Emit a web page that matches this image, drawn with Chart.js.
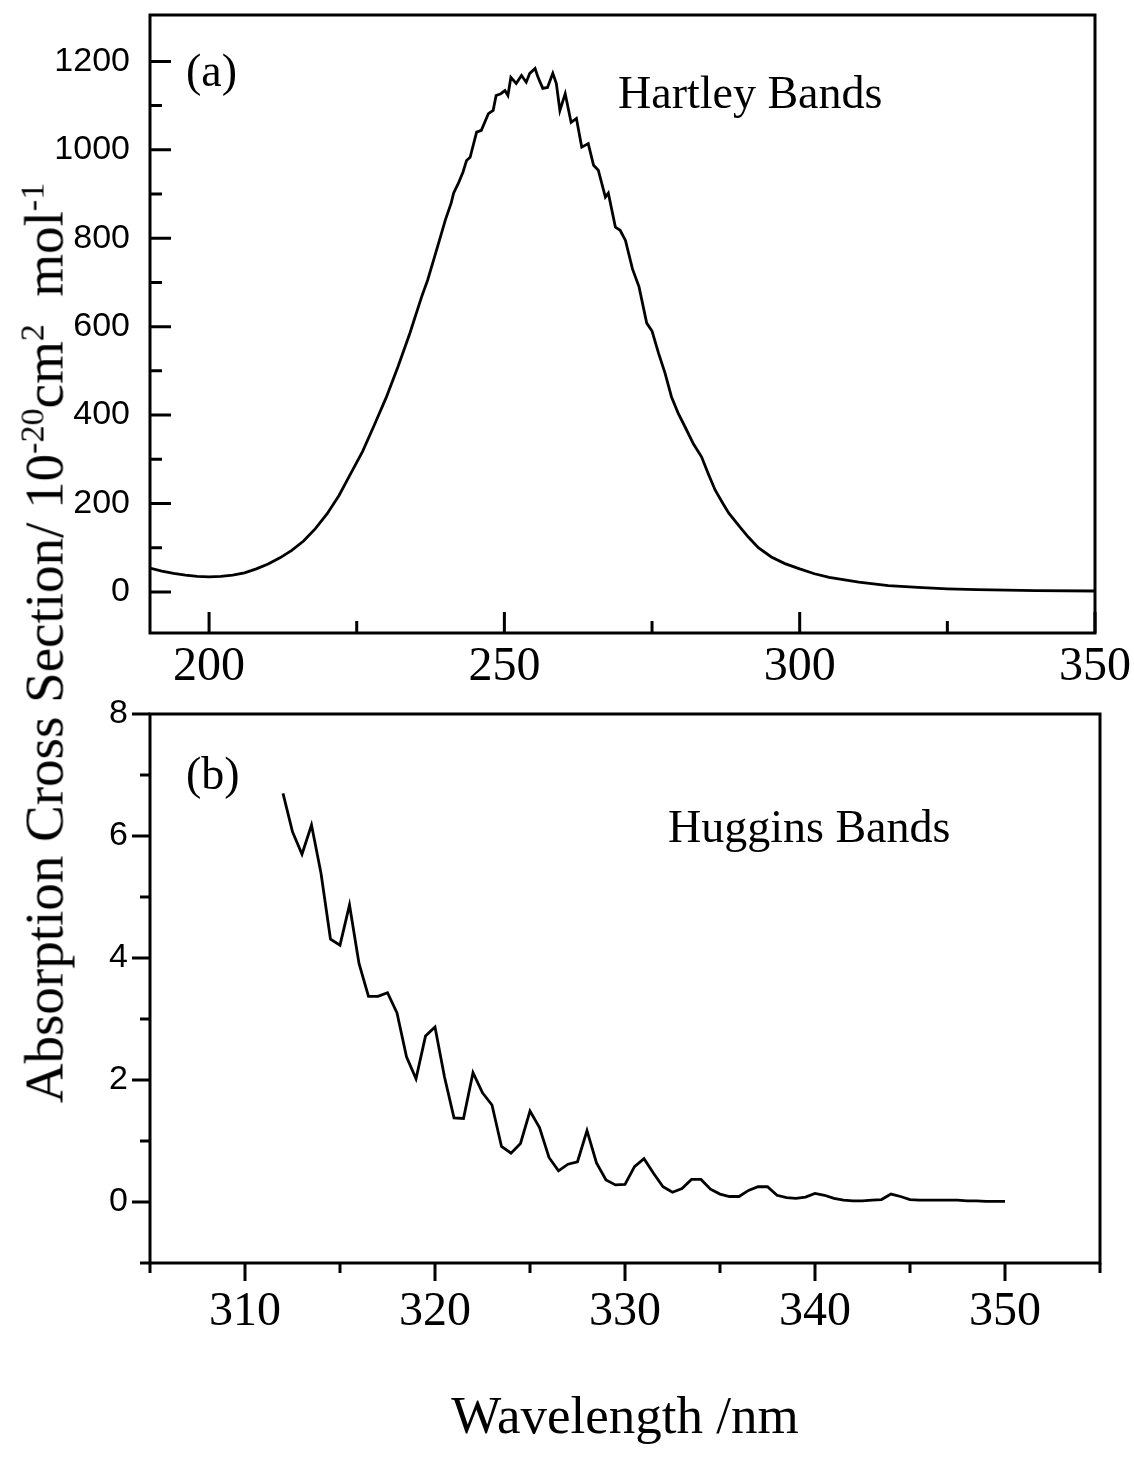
<!DOCTYPE html>
<html>
<head>
<meta charset="utf-8">
<script src="https://cdn.jsdelivr.net/npm/chart.js@4.4.0/dist/chart.umd.min.js"></script>
<style>
  body { margin: 0; background: #fff; }
  #wrap { position: relative; width: 1134px; height: 1472px; }
  canvas { position: absolute; left: 0; }
  #yTitle {
    position: absolute; left: 44px; top: 643px;
    transform: translate(-50%, -50%) rotate(-90deg);
    white-space: nowrap;
    font-family: "Liberation Serif", serif; font-size: 55px; color: #000;
  }
  #yTitle sup { font-size: 0.62em; vertical-align: 0.55em; }
</style>
</head>
<body>
<div id="wrap">
  <canvas id="hartley" width="1134" height="700" style="top:0"></canvas>
  <canvas id="huggins" width="1134" height="772" style="top:700px"></canvas>
  <div id="yTitle">Absorption Cross Section/ 10<sup>-20</sup>cm<sup>2</sup>&nbsp; mol<sup>-1</sup></div>
</div>
<script>
// (a) Hartley bands
const wlA = [190, 192, 194, 196, 198, 200, 202, 204, 206, 208, 210, 212, 214, 216, 218, 220,
  222, 224, 226, 228, 230, 232, 234, 236, 237, 238, 239, 240, 241, 241.4, 242.2, 243, 243.6,
  244.2, 245.3, 246.1, 247.3, 248.1, 248.6, 249.4, 250.1, 250.6, 251.1, 252.0, 252.9, 253.7,
  254.3, 255.2, 255.7, 256.5, 257.3, 258.2, 258.8, 259.4, 260.3, 261.3, 262.2, 263.1, 264.2,
  265.1, 265.9, 267.1, 267.6, 268.8, 269.6, 270.5, 271.7, 272.8, 274.1, 275, 276.1, 277.2,
  278.3, 279.4, 280.6, 282, 283.4, 284.5, 285.7, 287, 288, 290, 291.3, 293, 295.2, 297.5,
  300, 302.5, 305, 310, 315, 320, 325, 330, 335, 340, 350];
const sigmaA = [54, 47, 42, 38, 35, 34, 35, 38, 43, 52, 63, 77, 94, 115, 143, 177,
  218, 268, 318, 378, 440, 510, 585, 668, 705, 750, 795, 841, 880, 902, 924, 950, 976,
  983, 1040, 1044, 1082, 1089, 1123, 1127, 1134, 1123, 1164, 1150, 1168, 1153,
  1173, 1184, 1164, 1139, 1141, 1173, 1150, 1089, 1127, 1062, 1071, 1006, 1014,
  965, 954, 893, 902, 825, 818, 795, 730, 690, 608, 590, 540, 495,
  441, 405, 373, 335, 305, 268, 230, 200, 178, 145, 124, 100, 79, 64,
  52, 41, 33, 22, 14, 10, 7, 5, 4, 3, 2];

// (b) Huggins bands
const wlB = [312, 312.5, 313, 313.5, 314, 314.5, 315, 315.5, 316, 316.5, 317, 317.5, 318, 318.5,
  319, 319.5, 320, 320.5, 321, 321.5, 322, 322.5, 323, 323.5, 324, 324.5, 325, 325.5, 326, 326.5,
  327, 327.5, 328, 328.5, 329, 329.5, 330, 330.5, 331, 331.5, 332, 332.5, 333, 333.5, 334, 334.5,
  335, 335.5, 336, 336.5, 337, 337.5, 338, 338.5, 339, 339.5, 340, 340.5, 341, 341.5, 342, 342.5,
  343, 343.5, 344, 344.5, 345, 345.5, 346, 346.5, 347, 347.5, 348, 348.5, 349, 349.5, 350];
const sigmaB = [6.70, 6.07, 5.70, 6.18, 5.39, 4.31, 4.21, 4.87, 3.91, 3.37, 3.37, 3.43, 3.10, 2.38,
  2.02, 2.72, 2.87, 2.05, 1.38, 1.37, 2.12, 1.79, 1.59, 0.91, 0.80, 0.96, 1.49, 1.22, 0.73, 0.51,
  0.62, 0.66, 1.17, 0.64, 0.36, 0.28, 0.29, 0.58, 0.71, 0.47, 0.25, 0.16, 0.22, 0.37, 0.37, 0.21,
  0.13, 0.09, 0.09, 0.19, 0.25, 0.25, 0.11, 0.07, 0.06, 0.08, 0.14, 0.11, 0.06, 0.03, 0.02, 0.02,
  0.03, 0.04, 0.13, 0.09, 0.04, 0.03, 0.03, 0.03, 0.03, 0.03, 0.02, 0.02, 0.01, 0.01, 0.01];

// ticks
const xTicksA = [200, 250, 300, 350];
const xMinorA = [225, 275, 325];
const yTicksA = [0, 200, 400, 600, 800, 1000, 1200];
const yMinorA = [100, 300, 500, 700, 900, 1100];
const xTicksB = [310, 320, 330, 340, 350];
const xMinorB = [305, 315, 325, 335, 345, 355];
const yTicksB = [0, 2, 4, 6, 8];
const yMinorB = [-1, 1, 3, 5, 7];

const serif = '"Liberation Serif", "Times New Roman", serif';
const sans = '"Liberation Sans", Arial, sans-serif';

// frame + tick marks (inward or outward, major and minor)
const tickMarks = {
  id: 'tickMarks',
  afterDraw(chart, args, o) {
    const { ctx, chartArea: a, scales } = chart;
    const dir = o.inward ? -1 : 1;
    ctx.save();
    ctx.strokeStyle = '#000';
    ctx.lineWidth = 3;
    ctx.strokeRect(a.left, a.top, a.right - a.left, a.bottom - a.top);
    ctx.beginPath();
    const xs = (vals, len) => vals.forEach(v => {
      const p = scales.x.getPixelForValue(v);
      ctx.moveTo(p, a.bottom); ctx.lineTo(p, a.bottom + dir * len);
    });
    const ys = (vals, len) => vals.forEach(v => {
      const p = scales.y.getPixelForValue(v);
      ctx.moveTo(a.left, p); ctx.lineTo(a.left - dir * len, p);
    });
    xs(o.xMajor, o.majorLen); xs(o.xMinor, o.minorLen);
    ys(o.yMajor, o.majorLen); ys(o.yMinor, o.minorLen);
    ctx.stroke();
    ctx.restore();
  }
};

const panelText = {
  id: 'panelText',
  afterDraw(chart, args, o) {
    const ctx = chart.ctx;
    ctx.save();
    ctx.fillStyle = '#000';
    ctx.textBaseline = 'middle';
    ctx.textAlign = 'left';
    o.items.forEach(t => {
      ctx.font = t.font;
      ctx.fillText(t.text, t.x, t.y);
    });
    ctx.restore();
  }
};

function makeChart(id, cfg) {
  return new Chart(document.getElementById(id), {
    type: 'line',
    data: {
      datasets: [{
        data: cfg.xs.map((x, i) => ({ x: x, y: cfg.ys[i] })),
        borderColor: '#000',
        borderWidth: 2.8,
        pointRadius: 0,
        tension: 0,
        fill: false
      }]
    },
    options: {
      responsive: false,
      animation: false,
      layout: { padding: cfg.padding },
      plugins: {
        legend: { display: false },
        tooltip: { enabled: false },
        tickMarks: cfg.marks,
        panelText: { items: cfg.texts }
      },
      scales: {
        x: {
          type: 'linear',
          min: cfg.xMin, max: cfg.xMax,
          grid: { display: false },
          border: { display: false },
          afterBuildTicks: s => { s.ticks = cfg.marks.xMajor.map(v => ({ value: v })); },
          afterFit: s => { s.height = cfg.xHeight; s.paddingLeft = 0; s.paddingRight = 0; },
          ticks: {
            color: '#000', padding: cfg.xPad, maxRotation: 0, autoSkip: false,
            font: { family: serif, size: 48 },
            callback: v => String(v)
          },
          title: cfg.xTitle || { display: false }
        },
        y: {
          type: 'linear',
          min: cfg.yMin, max: cfg.yMax,
          grid: { display: false },
          border: { display: false },
          afterBuildTicks: s => { s.ticks = cfg.marks.yMajor.map(v => ({ value: v })); },
          afterFit: s => { s.width = 150; s.paddingTop = 0; s.paddingBottom = 0; },
          ticks: {
            color: '#000', padding: cfg.yPad,
            font: { family: sans, size: 34 },
            callback: v => String(v)
          }
        }
      }
    },
    plugins: [tickMarks, panelText]
  });
}

makeChart('hartley', {
  xs: wlA, ys: sigmaA,
  xMin: 190, xMax: 350, yMin: -93, yMax: 1305,
  padding: { top: 15, right: 39, left: 0, bottom: 0 },
  xHeight: 67, xPad: -2, yPad: 12,
  marks: { inward: true, majorLen: 21, minorLen: 12,
    xMajor: xTicksA, xMinor: xMinorA, yMajor: yTicksA, yMinor: yMinorA },
  texts: [
    { text: '(a)', x: 186, y: 74, font: '46px ' + serif },
    { text: 'Hartley Bands', x: 618, y: 96, font: '46px ' + serif }
  ]
});

makeChart('huggins', {
  xs: wlB, ys: sigmaB,
  xMin: 305, xMax: 355, yMin: -1, yMax: 8,
  padding: { top: 14, right: 34, left: 0, bottom: 0 },
  xHeight: 209, xPad: 13, yPad: 14,
  xTitle: {
    display: true, text: 'Wavelength /nm', color: '#000',
    font: { family: serif, size: 53 }, padding: { top: 0, bottom: 21 }
  },
  marks: { inward: false, majorLen: 18, minorLen: 10,
    xMajor: xTicksB, xMinor: xMinorB, yMajor: yTicksB, yMinor: yMinorB },
  texts: [
    { text: '(b)', x: 186, y: 77, font: '46px ' + serif },
    { text: 'Huggins Bands', x: 668, y: 130, font: '46px ' + serif }
  ]
});
</script>
</body>
</html>
